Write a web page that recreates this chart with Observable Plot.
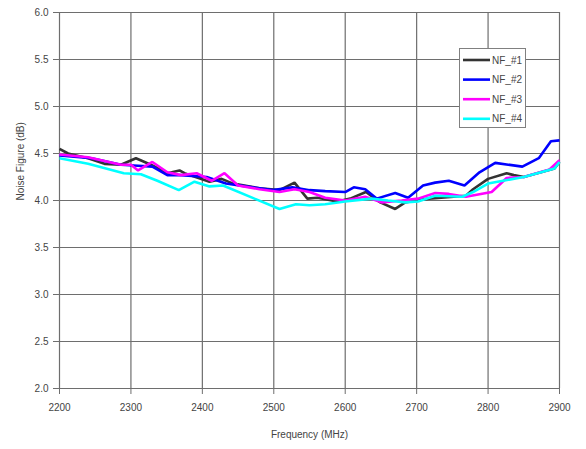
<!DOCTYPE html>
<html><head><meta charset="utf-8">
<script src="https://cdn.jsdelivr.net/npm/d3@7"></script>
<script src="https://cdn.jsdelivr.net/npm/@observablehq/plot@0.6"></script>
<style>body{margin:0;background:#fff} #chart{width:586px;height:449px}</style>
</head><body><div id="chart"></div>
<script>
const seriesNames = ["NF_#1", "NF_#2", "NF_#3", "NF_#4"];
const seriesColors = ["#333333", "#0000ff", "#ff00ff", "#00ffff"];
const xTicks = [2200, 2300, 2400, 2500, 2600, 2700, 2800, 2900];
const yTicks = [2.0, 2.5, 3.0, 3.5, 4.0, 4.5, 5.0, 5.5, 6.0];

const freq1 = [2200, 2212, 2240, 2263, 2286, 2307, 2328, 2351, 2368, 2375, 2410, 2427, 2443, 2480, 2508, 2529, 2547, 2561, 2589, 2607, 2629, 2649, 2670, 2684, 2698, 2717, 2769, 2779, 2800, 2826, 2836, 2850, 2893, 2900];
const nf1   = [4.55, 4.50, 4.45, 4.39, 4.38, 4.45, 4.38, 4.29, 4.32, 4.29, 4.20, 4.23, 4.18, 4.13, 4.11, 4.19, 4.02, 4.03, 3.99, 4.02, 4.09, 3.98, 3.91, 3.98, 4.00, 4.02, 4.05, 4.12, 4.23, 4.29, 4.27, 4.25, 4.34, 4.41];

const freq2 = [2200, 2245, 2286, 2310, 2330, 2351, 2370, 2406, 2433, 2461, 2499, 2526, 2550, 2572, 2600, 2612, 2628, 2644, 2670, 2688, 2709, 2726, 2745, 2767, 2788, 2810, 2848, 2871, 2888, 2900];
const nf2   = [4.48, 4.45, 4.38, 4.37, 4.36, 4.27, 4.27, 4.25, 4.18, 4.15, 4.11, 4.14, 4.11, 4.10, 4.09, 4.14, 4.12, 4.02, 4.08, 4.03, 4.16, 4.19, 4.21, 4.16, 4.30, 4.40, 4.36, 4.45, 4.63, 4.64];

const freq3 = [2200, 2240, 2286, 2300, 2310, 2330, 2351, 2370, 2392, 2413, 2431, 2450, 2480, 2508, 2529, 2550, 2572, 2600, 2628, 2651, 2679, 2702, 2726, 2745, 2769, 2805, 2826, 2850, 2886, 2900];
const nf3   = [4.49, 4.46, 4.38, 4.38, 4.32, 4.41, 4.30, 4.27, 4.29, 4.21, 4.29, 4.16, 4.12, 4.09, 4.12, 4.09, 4.03, 4.00, 4.04, 3.98, 4.00, 4.02, 4.08, 4.07, 4.04, 4.09, 4.24, 4.25, 4.33, 4.43];

const freq4 = [2200, 2240, 2290, 2314, 2337, 2367, 2389, 2410, 2429, 2473, 2508, 2531, 2550, 2572, 2600, 2637, 2660, 2684, 2702, 2726, 2764, 2779, 2800, 2821, 2850, 2893, 2900];
const nf4   = [4.45, 4.39, 4.29, 4.28, 4.21, 4.11, 4.20, 4.15, 4.16, 4.02, 3.91, 3.96, 3.95, 3.96, 3.99, 4.02, 4.00, 3.98, 3.99, 4.05, 4.04, 4.09, 4.18, 4.21, 4.25, 4.34, 4.41];

const freqs = [freq1, freq2, freq3, freq4];
const values = [nf1, nf2, nf3, nf4];
const rows = [];
seriesNames.forEach((s, i) => freqs[i].forEach((f, j) => rows.push({series: s, f, v: values[i][j]})));

const gridColor = "#6e6e6e";
const font = "'Liberation Sans', Arial, sans-serif";

const plot = Plot.plot({
  width: 586, height: 449,
  marginLeft: 59, marginRight: 27, marginTop: 12, marginBottom: 61,
  style: {fontFamily: font, fontSize: "10px", color: "#444", background: "#fff", overflow: "visible"},
  x: {domain: [2200, 2900], label: null},
  y: {domain: [2, 6], label: null},
  color: {domain: seriesNames, range: seriesColors},
  marks: [
    Plot.gridX(xTicks, {stroke: gridColor, strokeOpacity: 1, strokeWidth: 1.2}),
    Plot.gridY(yTicks, {stroke: gridColor, strokeOpacity: 1, strokeWidth: 1.2}),
    Plot.axisX(xTicks, {tickSize: 6, tickPadding: 9, stroke: gridColor, tickFormat: d => String(d), fill: "#444", fontSize: 10}),
    Plot.axisY(yTicks, {tickSize: 6, tickPadding: 5, stroke: gridColor, tickFormat: d => d.toFixed(1), fill: "#444", fontSize: 10}),
    Plot.line(rows, {x: "f", y: "v", z: "series", stroke: "series", strokeWidth: 2.6, strokeLinejoin: "miter", strokeLinecap: "butt"}),
    Plot.text(["Noise Figure (dB)"], {frameAnchor: "left", rotate: -90, dx: -39, fill: "#444", fontSize: 10}),
    Plot.text(["Frequency (MHz)"], {frameAnchor: "bottom", dy: 49, fill: "#444", fontSize: 10})
  ]
});
document.getElementById("chart").appendChild(plot);

// Legend box (inside plot area, Excel style)
const svg = d3.select(plot);
const lg = svg.append("g").attr("font-family", font).attr("font-size", 10).attr("text-anchor", "start");
lg.append("rect").attr("x", 459.5).attr("y", 48.5).attr("width", 66).attr("height", 79)
  .attr("fill", "#fff").attr("stroke", "#808080").attr("stroke-width", 1);
seriesNames.forEach((s, i) => {
  const yy = 60 + i * 19.6;
  lg.append("line").attr("x1", 463).attr("x2", 490).attr("y1", yy).attr("y2", yy)
    .attr("stroke", seriesColors[i]).attr("stroke-width", 2.6);
  lg.append("text").attr("x", 492).attr("y", yy).attr("dy", "0.35em").attr("text-anchor", "start").attr("fill", "#444").text(s);
});
</script>
</body></html>
